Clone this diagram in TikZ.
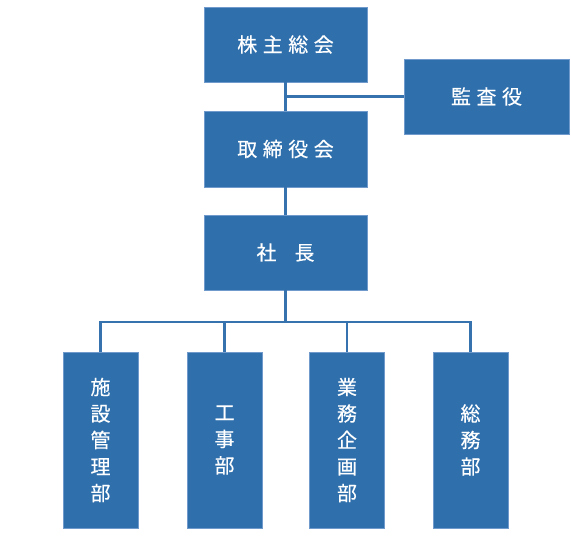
\documentclass[tikz,border=0pt]{standalone}
\usepackage{fontspec}
\newfontfamily\cjk[FakeBold=0.4]{Noto Sans CJK JP}
\definecolor{boxblue}{HTML}{2E6FAC}
\definecolor{boxedge}{HTML}{6F9ACB}
\definecolor{linkblue}{HTML}{3572AE}
\newcommand{\gp}{\hspace{5.5pt}}
\begin{document}
\begin{tikzpicture}[x=1pt,y=-1pt,
  orgbox/.style={rectangle, fill=boxblue, draw=boxedge, line width=0.8pt, inner sep=0pt,
    text=white, font=\cjk\fontsize{20}{26.5}\selectfont, align=center},
  widebox/.style={orgbox, minimum width=163pt, minimum height=75pt},
  tallbox/.style={orgbox, minimum width=75pt, minimum height=176pt},
  link/.style={draw=linkblue, line width=2.4pt}]
\useasboundingbox (0,0) rectangle (571,536);
\node[widebox] (kabu) at (285.5,44.5) {株\gp 主\gp 総\gp 会};
\node[widebox, minimum width=165pt] (kansa) at (486.5,96.5) {監\gp 査\gp 役};
\node[widebox, minimum height=76pt] (tori) at (285.5,149) {取\gp 締\gp 役\gp 会};
\node[widebox] (shacho) at (285.5,252.5) {社\hspace{18pt}長};
\node[tallbox] (d1) at (100.5,440) {施\\設\\管\\理\\部};
\node[tallbox] (d2) at (224.5,440) {工\\事\\部};
\node[tallbox] (d3) at (347,440) {業\\務\\企\\画\\部};
\node[tallbox] (d4) at (470.5,440) {総\\務\\部};
\coordinate (bus) at (285.5,322);
\draw[link] (kabu.south) -- (tori.north);
\draw[link] (kansa.west) -- (kabu.south |- kansa.west);
\draw[link] (tori.south) -- (shacho.north);
\draw[link] (shacho.south) -- (bus);
\foreach \d in {d1,d2,d3,d4} \draw[link] (\d.north) |- (bus);
\end{tikzpicture}
\end{document}
